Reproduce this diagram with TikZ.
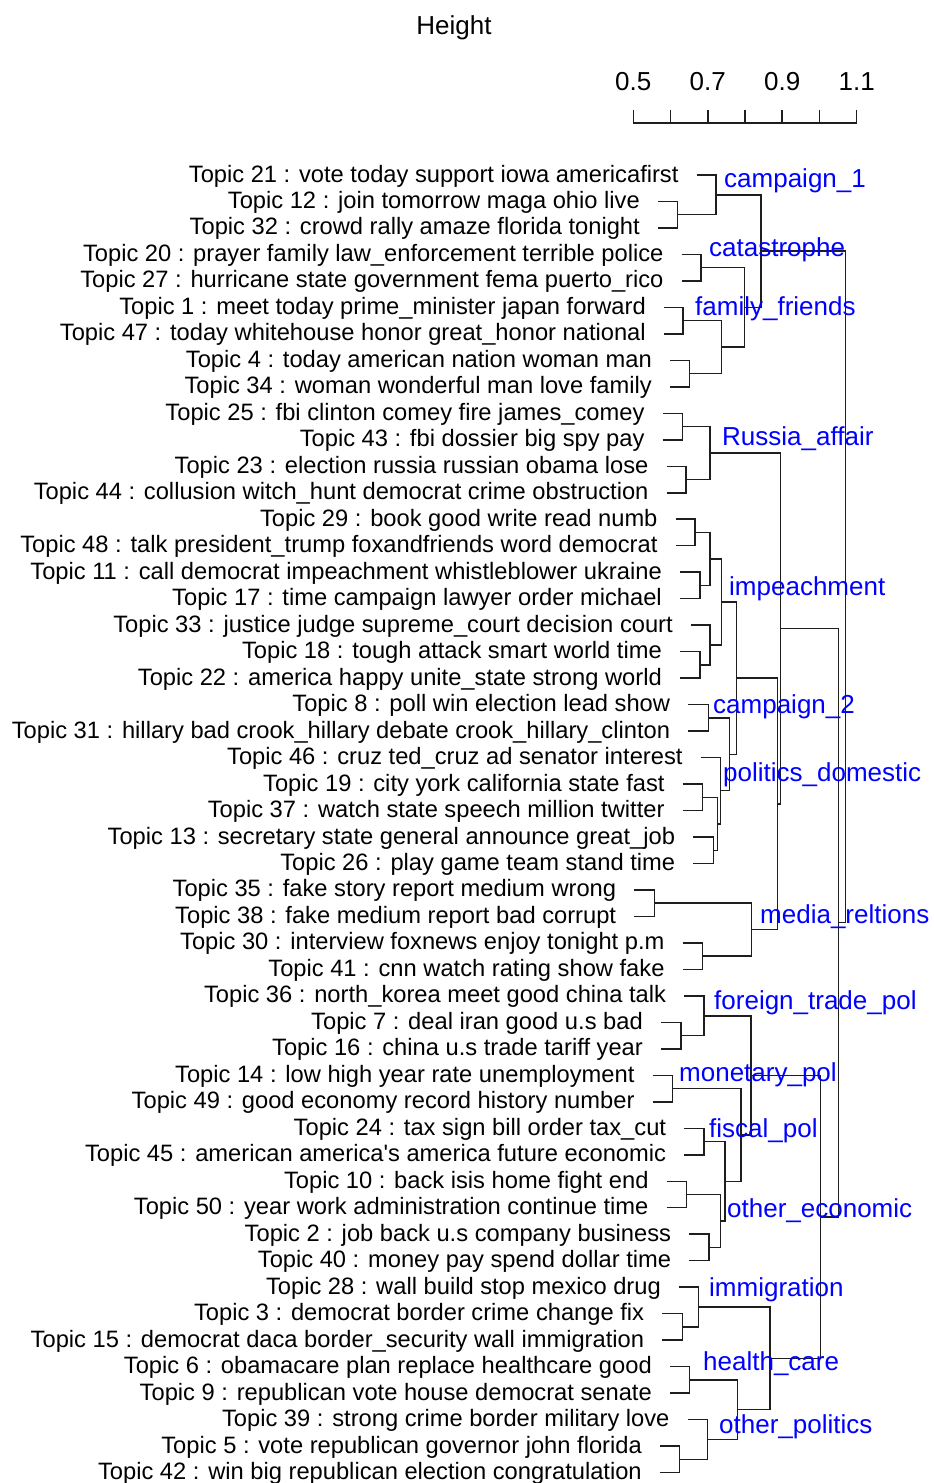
\documentclass[tikz,border=0pt]{standalone}
\usepackage{fontspec}
\newfontfamily\arialf{Liberation Sans}
\newcommand\lblfont{\arialf\fontsize{23.7}{28}\selectfont}
\newcommand\grpfont{\arialf\fontsize{26}{31}\selectfont}
\definecolor{grpblue}{RGB}{0,0,255}
\definecolor{linegray}{RGB}{30,30,30}
\newcommand\leaf[4]{%
  \node[lab] (t#1) at ({#2-18},#3) {#4};
  \coordinate (l#1) at (#2,#3);}
\begin{document}
\begin{tikzpicture}[x=1pt,y=-1pt,
  lab/.style={anchor=base east,inner sep=0pt,yshift=-7pt,font=\lblfont,text=black},
  grp/.style={anchor=base west,inner sep=0pt,font=\grpfont,text=grpblue},
  edge/.style={draw=linegray,line width=1.5pt},
  scl/.style={anchor=base,inner sep=0pt,font=\grpfont,text=black}]
\useasboundingbox[fill=white] (0,0) rectangle (934,1483);
% title and scale
\node[scl] (title) at (454,34.3) {Height};
\coordinate (s0) at (633.3,123);
\coordinate (s6) at (856.7,123);
\draw[edge] (s0) -- (s6);
\foreach \k in {0,...,6}{
  \coordinate (tk\k) at ({633.3+37.23*\k},110);
  \coordinate (tb\k) at ({633.3+37.23*\k},123);
  \draw[edge] (tk\k) -- (tb\k);
}
\node[scl] (v05) at (633.3,90.7) {0.5};
\node[scl] (v07) at (707.8,90.7) {0.7};
\node[scl] (v09) at (782.2,90.7) {0.9};
\node[scl] (v11) at (856.7,90.7) {1.1};
% leaves
\leaf{0}{696.7}{175}{Topic 21 : vote today support iowa americafirst}
\leaf{1}{658}{201.48}{Topic 12 : join tomorrow maga ohio live}
\leaf{2}{658}{227.96}{Topic 32 : crowd rally amaze florida tonight}
\leaf{3}{681.7}{254.44}{Topic 20 : prayer family law\_enforcement terrible police}
\leaf{4}{681.7}{280.92}{Topic 27 : hurricane state government fema puerto\_rico}
\leaf{5}{664}{307.4}{Topic 1 : meet today prime\_minister japan forward}
\leaf{6}{664}{333.88}{Topic 47 : today whitehouse honor great\_honor national}
\leaf{7}{670}{360.36}{Topic 4 : today american nation woman man}
\leaf{8}{670}{386.84}{Topic 34 : woman wonderful man love family}
\leaf{9}{662.7}{413.32}{Topic 25 : fbi clinton comey fire james\_comey}
\leaf{10}{662.7}{439.8}{Topic 43 : fbi dossier big spy pay}
\leaf{11}{666.7}{466.28}{Topic 23 : election russia russian obama lose}
\leaf{12}{666.7}{492.76}{Topic 44 : collusion witch\_hunt democrat crime obstruction}
\leaf{13}{675.7}{519.24}{Topic 29 : book good write read numb}
\leaf{14}{675.7}{545.72}{Topic 48 : talk president\_trump foxandfriends word democrat}
\leaf{15}{680}{572.2}{Topic 11 : call democrat impeachment whistleblower ukraine}
\leaf{16}{680}{598.68}{Topic 17 : time campaign lawyer order michael}
\leaf{17}{691}{625.16}{Topic 33 : justice judge supreme\_court decision court}
\leaf{18}{680}{651.64}{Topic 18 : tough attack smart world time}
\leaf{19}{680}{678.12}{Topic 22 : america happy unite\_state strong world}
\leaf{20}{688.3}{704.6}{Topic 8 : poll win election lead show}
\leaf{21}{688.3}{731.08}{Topic 31 : hillary bad crook\_hillary debate crook\_hillary\_clinton}
\leaf{22}{700.7}{757.56}{Topic 46 : cruz ted\_cruz ad senator interest}
\leaf{23}{682.7}{784.04}{Topic 19 : city york california state fast}
\leaf{24}{682.7}{810.52}{Topic 37 : watch state speech million twitter}
\leaf{25}{693.3}{837}{Topic 13 : secretary state general announce great\_job}
\leaf{26}{693.3}{863.48}{Topic 26 : play game team stand time}
\leaf{27}{634.3}{889.96}{Topic 35 : fake story report medium wrong}
\leaf{28}{634.3}{916.44}{Topic 38 : fake medium report bad corrupt}
\leaf{29}{682.7}{942.92}{Topic 30 : interview foxnews enjoy tonight p.m}
\leaf{30}{682.7}{969.4}{Topic 41 : cnn watch rating show fake}
\leaf{31}{684.3}{995.88}{Topic 36 : north\_korea meet good china talk}
\leaf{32}{661}{1022.36}{Topic 7 : deal iran good u.s bad}
\leaf{33}{661}{1048.84}{Topic 16 : china u.s trade tariff year}
\leaf{34}{652.7}{1075.32}{Topic 14 : low high year rate unemployment}
\leaf{35}{652.7}{1101.8}{Topic 49 : good economy record history number}
\leaf{36}{684.3}{1128.28}{Topic 24 : tax sign bill order tax\_cut}
\leaf{37}{684.3}{1154.76}{Topic 45 : american america's america future economic}
\leaf{38}{666.7}{1181.24}{Topic 10 : back isis home fight end}
\leaf{39}{666.7}{1207.72}{Topic 50 : year work administration continue time}
\leaf{40}{689.3}{1234.2}{Topic 2 : job back u.s company business}
\leaf{41}{689.3}{1260.68}{Topic 40 : money pay spend dollar time}
\leaf{42}{679}{1287.16}{Topic 28 : wall build stop mexico drug}
\leaf{43}{662.3}{1313.64}{Topic 3 : democrat border crime change fix}
\leaf{44}{662.3}{1340.12}{Topic 15 : democrat daca border\_security wall immigration}
\leaf{45}{670}{1366.6}{Topic 6 : obamacare plan replace healthcare good}
\leaf{46}{670}{1393.08}{Topic 9 : republican vote house democrat senate}
\leaf{47}{687.7}{1419.56}{Topic 39 : strong crime border military love}
\leaf{48}{660}{1446.04}{Topic 5 : vote republican governor john florida}
\leaf{49}{660}{1472.52}{Topic 42 : win big republican election congratulation}
% internal nodes
\coordinate (n12) at (677.7,214.72);
\coordinate (n21) at (716,194.86);
\coordinate (n20) at (701,267.68);
\coordinate (n1) at (683,320.64);
\coordinate (n4) at (689.3,373.6);
\coordinate (n1to34) at (721.7,347.12);
\coordinate (n20to34) at (744.3,307.4);
\coordinate (top) at (761,251.13);
\coordinate (n25) at (682.7,426.56);
\coordinate (n23) at (686,479.52);
\coordinate (rus) at (710,453.04);
\coordinate (n29) at (695,532.48);
\coordinate (n11) at (700,585.44);
\coordinate (n29to17) at (710,558.96);
\coordinate (n18) at (700,664.88);
\coordinate (n33) at (710,645.02);
\coordinate (imp) at (721.7,601.99);
\coordinate (n8) at (708.3,717.84);
\coordinate (n19) at (702.7,797.28);
\coordinate (n13) at (713.3,850.24);
\coordinate (n19to26) at (717.3,823.76);
\coordinate (n46) at (720.7,790.66);
\coordinate (cp2) at (729.3,754.25);
\coordinate (ic) at (736.7,678.12);
\coordinate (n35) at (654.3,903.2);
\coordinate (n30) at (702.7,956.16);
\coordinate (med) at (751.7,929.68);
\coordinate (icm) at (777.5,803.9);
\coordinate (ricm) at (780.7,628.47);
\coordinate (n7) at (681,1035.6);
\coordinate (n36) at (704,1015.74);
\coordinate (n14) at (672.3,1088.56);
\coordinate (n24) at (704,1141.52);
\coordinate (n10) at (686.7,1194.48);
\coordinate (n2) at (709,1247.44);
\coordinate (n10to40) at (720.7,1220.96);
\coordinate (n24to40) at (725,1181.24);
\coordinate (n14to40) at (741,1134.9);
\coordinate (eco) at (751,1075.32);
\coordinate (n3) at (682.3,1326.88);
\coordinate (n28) at (698.3,1307.02);
\coordinate (n6) at (689.3,1379.84);
\coordinate (n5) at (679.3,1459.28);
\coordinate (n39) at (707.3,1439.42);
\coordinate (n6to42) at (737.7,1409.63);
\coordinate (n28to42) at (770,1358.33);
\coordinate (ep) at (820.7,1216.83);
\coordinate (low) at (838.3,922.65);
\coordinate (root) at (845.5,586.89);
% connectors
\foreach \c/\p in {l1/n12,l2/n12,l0/n21,n12/n21,l3/n20,l4/n20,l5/n1,l6/n1,l7/n4,l8/n4,
  n1/n1to34,n4/n1to34,n20/n20to34,n1to34/n20to34,n21/top,n20to34/top,
  l9/n25,l10/n25,l11/n23,l12/n23,n25/rus,n23/rus,
  l13/n29,l14/n29,l15/n11,l16/n11,n29/n29to17,n11/n29to17,l18/n18,l19/n18,l17/n33,n18/n33,
  n29to17/imp,n33/imp,l20/n8,l21/n8,l23/n19,l24/n19,l25/n13,l26/n13,n19/n19to26,n13/n19to26,
  l22/n46,n19to26/n46,n8/cp2,n46/cp2,imp/ic,cp2/ic,
  l27/n35,l28/n35,l29/n30,l30/n30,n35/med,n30/med,ic/icm,med/icm,rus/ricm,icm/ricm,
  l32/n7,l33/n7,l31/n36,n7/n36,l34/n14,l35/n14,l36/n24,l37/n24,l38/n10,l39/n10,l40/n2,l41/n2,
  n10/n10to40,n2/n10to40,n24/n24to40,n10to40/n24to40,n14/n14to40,n24to40/n14to40,
  n36/eco,n14to40/eco,l43/n3,l44/n3,l42/n28,n3/n28,l45/n6,l46/n6,l48/n5,l49/n5,
  l47/n39,n5/n39,n6/n6to42,n39/n6to42,n28/n28to42,n6to42/n28to42,
  eco/ep,n28to42/ep,ricm/low,ep/low,top/root,low/root}{
  \draw[edge] (\c) -| (\p);
}
% group labels
\node[grp] (g1) at (724,187) {campaign\_1};
\node[grp] (g2) at (709,256.7) {catastrophe};
\node[grp] (g3) at (695,315) {family\_friends};
\node[grp] (g4) at (722,445) {Russia\_affair};
\node[grp] (g5) at (729,595) {impeachment};
\node[grp] (g6) at (713,713.3) {campaign\_2};
\node[grp] (g7) at (723,781.7) {politics\_domestic};
\node[grp] (g8) at (760,923.3) {media\_reltions};
\node[grp] (g9) at (714,1009.3) {foreign\_trade\_pol};
\node[grp] (g10) at (679,1081.7) {monetary\_pol};
\node[grp] (g11) at (709,1137.3) {fiscal\_pol};
\node[grp] (g12) at (727,1217.3) {other\_economic};
\node[grp] (g13) at (709,1296.7) {immigration};
\node[grp] (g14) at (703,1370) {health\_care};
\node[grp] (g15) at (719,1433.3) {other\_politics};
\end{tikzpicture}
\end{document}
